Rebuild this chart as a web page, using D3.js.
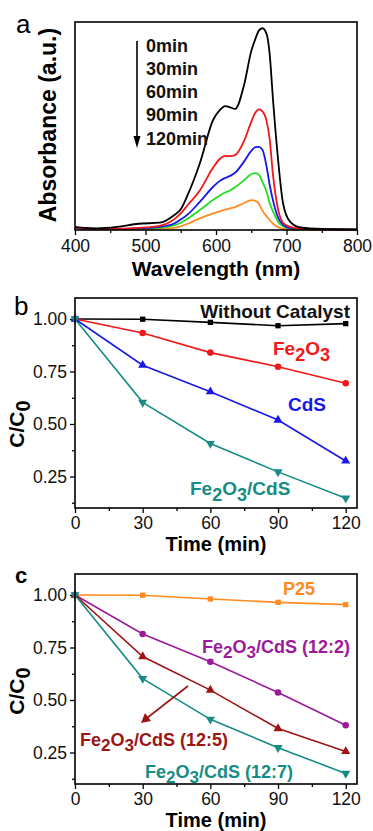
<!DOCTYPE html>
<html>
<head>
<meta charset="utf-8">
<script src="https://cdn.jsdelivr.net/npm/d3@7"></script>
<style>
  html, body { margin: 0; padding: 0; background: #fff; }
  svg { display: block; font-family: "Liberation Sans", Arial, sans-serif; }
</style>
</head>
<body>
<svg id="fig" width="373" height="831"></svg>
<script>
// ---- Panel a: UV-vis spectra during degradation ----
const wavelength = [400, 430, 460, 490, 520, 540, 550, 560, 577, 596, 605, 613, 620, 627, 640, 650, 656, 661, 666, 672, 676, 681, 688, 695, 705, 720, 750, 800];
const abs0min   = [0.014, 0.008, 0.015, 0.03, 0.035, 0.07, 0.1, 0.17, 0.32, 0.53, 0.575, 0.596, 0.59, 0.582, 0.7, 0.86, 0.92, 0.96, 0.97, 0.94, 0.85, 0.62, 0.34, 0.13, 0.04, 0.012, 0.005, 0.003];
const abs30min  = [0.012, 0.005, 0.006, 0.01, 0.02, 0.05, 0.08, 0.12, 0.19, 0.3, 0.34, 0.356, 0.355, 0.36, 0.43, 0.52, 0.565, 0.58, 0.57, 0.52, 0.44, 0.26, 0.1, 0.035, 0.015, 0.006, 0.003, 0.002];
const abs60min  = [0.012, 0.005, 0.005, 0.008, 0.015, 0.03, 0.05, 0.075, 0.135, 0.208, 0.235, 0.25, 0.26, 0.275, 0.33, 0.38, 0.398, 0.4, 0.385, 0.3, 0.22, 0.14, 0.06, 0.025, 0.01, 0.005, 0.003, 0.002];
const abs90min  = [0.01, 0.005, 0.004, 0.006, 0.01, 0.022, 0.035, 0.055, 0.096, 0.145, 0.165, 0.18, 0.19, 0.205, 0.24, 0.268, 0.273, 0.265, 0.23, 0.18, 0.13, 0.088, 0.04, 0.018, 0.008, 0.004, 0.003, 0.002];
const abs120min = [0.01, 0.004, 0.003, 0.004, 0.006, 0.01, 0.018, 0.03, 0.056, 0.08, 0.09, 0.098, 0.104, 0.11, 0.13, 0.144, 0.14, 0.125, 0.092, 0.065, 0.048, 0.03, 0.013, 0.006, 0.004, 0.003, 0.002, 0.002];
const spectraLabels = ["0min", "30min", "60min", "90min", "120min"];
const spectraColors = ["#000000", "#f01818", "#1818e8", "#22dd22", "#ff8a1e"];
const wavelengthTicks = [400, 500, 600, 700, 800];

// ---- Panels b and c: C/C0 versus irradiation time ----
const timeMin = [0, 30, 60, 90, 120];
const withoutCatalyst = [1.0, 0.999, 0.984, 0.968, 0.978];
const fe2o3Only = [1.0, 0.933, 0.84, 0.773, 0.694];
const cdsOnly = [1.0, 0.78, 0.654, 0.519, 0.324];
const fe2o3Cds = [1.0, 0.603, 0.407, 0.272, 0.147];
const p25 = [1.0, 0.999, 0.981, 0.965, 0.954];
const ratio12to2 = [1.0, 0.814, 0.682, 0.536, 0.38];
const ratio12to5 = [1.0, 0.707, 0.547, 0.364, 0.255];
const ratio12to7 = [1.0, 0.602, 0.408, 0.273, 0.15];
const timeTicks = [0, 30, 60, 90, 120];
const ratioTicks = [0.25, 0.5, 0.75, 1.0];

const svg = d3.select("#fig");
svg.append("rect").attr("width", 373).attr("height", 831).attr("fill", "#fff");

const left = 75, right = 357;
const tickFont = 17.5;

function frame(g, y0, y1) {
  g.append("rect")
    .attr("x", left).attr("y", y0)
    .attr("width", right - left).attr("height", y1 - y0)
    .attr("fill", "none").attr("stroke", "#000").attr("stroke-width", 1.6);
}

function styleAxis(sel) {
  sel.select(".domain").remove();
  sel.selectAll("line").attr("stroke", "#000").attr("stroke-width", 1.3);
  sel.selectAll("text").attr("font-size", tickFont).attr("fill", "#111")
    .attr("font-family", "\"Liberation Sans\", Arial, sans-serif");
}

// Writes a label, lowering the digit counts of formulas (Fe2O3, C/C0) as subscripts
function chemText(sel, str, size) {
  const re = /(Fe)(2)(O)(3)|(C\/C)(0)/;
  let rest = str;
  const runs = [];
  while (rest.length) {
    const m = rest.match(re);
    if (!m) { runs.push([rest, false]); break; }
    if (m.index > 0) runs.push([rest.slice(0, m.index), false]);
    if (m[1]) {
      runs.push([m[1], false]); runs.push([m[2], true]);
      runs.push([m[3], false]); runs.push([m[4], true]);
    } else {
      runs.push([m[5], false]); runs.push([m[6], true]);
    }
    rest = rest.slice(m.index + m[0].length);
  }
  let lowered = false;
  runs.forEach(([t, sub]) => {
    const ts = sel.append("tspan").text(t);
    if (sub && !lowered) { ts.attr("dy", size * 0.3); lowered = true; }
    else if (!sub && lowered) { ts.attr("dy", -size * 0.3); lowered = false; }
    if (sub) ts.attr("font-size", size * 0.95);
  });
}

// ================= Panel a =================
{
  const y0 = 22, y1 = 230;
  const g = svg.append("g");
  const x = d3.scaleLinear().domain([400, 800]).range([left, right]);
  const y = d3.scaleLinear().domain([0, 1]).range([y1, y0]);

  const series = [abs0min, abs30min, abs60min, abs90min, abs120min];
  const line = d3.line()
    .x((d, i) => x(wavelength[i]))
    .y(d => y(d))
    .curve(d3.curveMonotoneX);

  // draw the later (lower) spectra first so the 0 min curve sits on top
  series.slice().reverse().forEach((s, k) => {
    const idx = series.length - 1 - k;
    g.append("path").datum(s)
      .attr("d", line).attr("fill", "none")
      .attr("stroke", spectraColors[idx]).attr("stroke-width", 1.8)
      .attr("stroke-linejoin", "round");
  });

  const ax = g.append("g").attr("transform", `translate(0,${y1})`)
    .call(d3.axisBottom(x).tickValues(wavelengthTicks).tickSize(5).tickPadding(5).tickFormat(d3.format("d")));
  styleAxis(ax);
  const axm = g.append("g").attr("transform", `translate(0,${y1})`)
    .call(d3.axisBottom(x).tickValues([450, 550, 650, 750]).tickSize(3).tickFormat(""));
  styleAxis(axm);

  frame(g, y0, y1);

  g.append("text").attr("x", (left + right) / 2).attr("y", 276)
    .attr("text-anchor", "middle").attr("font-size", 21).attr("font-weight", "bold")
    .text("Wavelength (nm)");
  g.append("text").attr("transform", `translate(56,125) rotate(-90)`)
    .attr("text-anchor", "middle").attr("font-size", 23).attr("font-weight", "bold")
    .text("Absorbance (a.u.)");

  // time legend with a downward arrow
  const legendY = d3.scalePoint().domain(spectraLabels).range([45, 138]);
  spectraLabels.forEach(t => {
    g.append("text").attr("x", 146).attr("y", legendY(t) + 6.5)
      .attr("font-size", 18).attr("font-weight", "bold").attr("fill", "#111").text(t);
  });
  g.append("line").attr("x1", 137).attr("x2", 137).attr("y1", 41).attr("y2", 140)
    .attr("stroke", "#000").attr("stroke-width", 1.6);
  g.append("path").attr("d", "M133.5,136 L140.5,136 L137,148 Z").attr("fill", "#000");

  g.append("text").attr("x", 16).attr("y", 33).attr("font-size", 26).text("a");
}

// ============ shared C/C0 panel builder ============
function ratioPanel(y0, y1, seriesList, labelText, panelLetter, titleY, yTitleY) {
  const g = svg.append("g");
  const x = d3.scaleLinear().domain([0, 125]).range([left, right]);
  const y = d3.scaleLinear().domain([0.1, 1.1]).range([y1, y0]);

  const ax = g.append("g").attr("transform", `translate(0,${y1})`)
    .call(d3.axisBottom(x).tickValues(timeTicks).tickSize(5).tickPadding(4).tickFormat(d3.format("d")));
  styleAxis(ax);
  const axm = g.append("g").attr("transform", `translate(0,${y1})`)
    .call(d3.axisBottom(x).tickValues([15, 45, 75, 105]).tickSize(3).tickFormat(""));
  styleAxis(axm);
  const ay = g.append("g").attr("transform", `translate(${left},0)`)
    .call(d3.axisLeft(y).tickValues(ratioTicks).tickSize(5).tickPadding(3).tickFormat(d3.format(".2f")));
  styleAxis(ay);
  const aym = g.append("g").attr("transform", `translate(${left},0)`)
    .call(d3.axisLeft(y).tickValues([0.125, 0.375, 0.625, 0.875]).tickSize(3).tickFormat(""));
  styleAxis(aym);

  const line = d3.line().x((d, i) => x(timeMin[i])).y(d => y(d));

  seriesList.forEach(s => {
    g.append("path").datum(s.values).attr("d", line)
      .attr("fill", "none").attr("stroke", s.color).attr("stroke-width", 1.6);
  });
  seriesList.forEach(s => {
    const sym = d3.symbol().type(s.shape === "circle" ? d3.symbolCircle
      : s.shape === "square" ? d3.symbolSquare : d3.symbolTriangle).size(s.shape === "circle" ? 34 : s.shape === "square" ? 28 : 36);
    g.selectAll(null).data(s.values).enter().append("path")
      .attr("d", sym)
      .attr("transform", (d, i) => `translate(${x(timeMin[i])},${y(d)})` + (s.shape === "down" ? " rotate(180)" : ""))
      .attr("fill", s.color);
  });

  frame(g, y0, y1);

  labelText.forEach(l => {
    const t = g.append("text").attr("x", l.x).attr("y", l.y)
      .attr("font-size", l.size).attr("font-weight", "bold").attr("fill", l.color)
      .attr("text-anchor", l.anchor || "start");
    chemText(t, l.text, l.size);
  });

  g.append("text").attr("x", (left + right) / 2).attr("y", titleY)
    .attr("text-anchor", "middle").attr("font-size", 20).attr("font-weight", "bold")
    .text("Time (min)");
  const yt = g.append("text").attr("transform", `translate(24,${yTitleY}) rotate(-90)`)
    .attr("text-anchor", "middle").attr("font-size", 21).attr("font-weight", "bold");
  chemText(yt, "C/C0", 21);

  g.append("text").attr("x", panelLetter.x).attr("y", panelLetter.y)
    .attr("font-size", panelLetter.size).attr("font-weight", panelLetter.weight).text(panelLetter.text);
  return { g, x, y };
}

// ================= Panel b =================
ratioPanel(298, 508, [
  { values: withoutCatalyst, color: "#000000", shape: "square" },
  { values: fe2o3Only, color: "#f01818", shape: "circle" },
  { values: cdsOnly, color: "#1818e8", shape: "up" },
  { values: fe2o3Cds, color: "#178c84", shape: "down" }
], [
  { text: "Without Catalyst", x: 350, y: 318, size: 19, color: "#111", anchor: "end" },
  { text: "Fe2O3", x: 273, y: 355, size: 19, color: "#f01818" },
  { text: "CdS", x: 288, y: 411, size: 19, color: "#1818e8" },
  { text: "Fe2O3/CdS", x: 190, y: 495, size: 19, color: "#178c84" }
], { text: "b", x: 14, y: 315, size: 26, weight: "normal" }, 551, 424);

// ================= Panel c =================
const pc = ratioPanel(574, 784, [
  { values: p25, color: "#ff8a1e", shape: "square" },
  { values: ratio12to2, color: "#9a1a9a", shape: "circle" },
  { values: ratio12to5, color: "#9c1414", shape: "up" },
  { values: ratio12to7, color: "#178c84", shape: "down" }
], [
  { text: "P25", x: 283, y: 595, size: 18, color: "#ff8a1e" },
  { text: "Fe2O3/CdS (12:2)", x: 202, y: 653, size: 18, color: "#9a1a9a" },
  { text: "Fe2O3/CdS (12:5)", x: 80, y: 746, size: 18, color: "#9c1414" },
  { text: "Fe2O3/CdS (12:7)", x: 145, y: 778, size: 18, color: "#178c84" }
], { text: "c", x: 15, y: 583, size: 22, weight: "bold" }, 827, 691);

// pointer from the 12:5 curve to its label
pc.g.append("line").attr("x1", 188).attr("y1", 686).attr("x2", 147).attr("y2", 718)
  .attr("stroke", "#9c1414").attr("stroke-width", 1.6);
pc.g.append("path").attr("d", "M141,723 L145,713 L151,721 Z").attr("fill", "#9c1414");
</script>
</body>
</html>
